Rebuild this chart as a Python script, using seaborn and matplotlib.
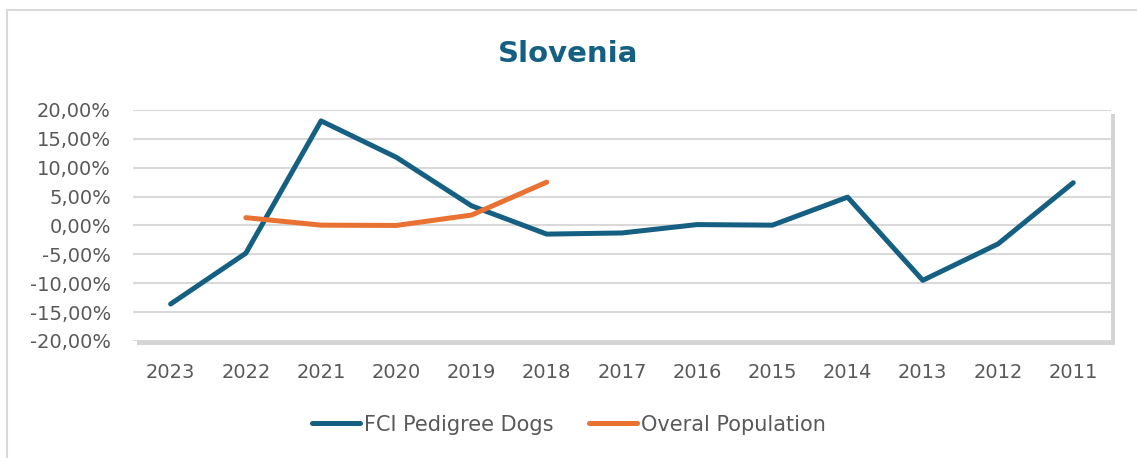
import numpy as np
import pandas as pd
import matplotlib
matplotlib.use("Agg")
import matplotlib.pyplot as plt
import matplotlib.patheffects as pe
from matplotlib.lines import Line2D
import seaborn as sns

# ---------------- DATA ----------------
years = ["2023", "2022", "2021", "2020", "2019", "2018", "2017",
         "2016", "2015", "2014", "2013", "2012", "2011"]
fci_dogs = [-13.6, -4.8, 18.1, 11.8, 3.4, -1.5, -1.3, 0.15, 0.05, 4.9, -9.5, -3.2, 7.4]
overal_pop = [np.nan, 1.35, 0.05, 0.0, 1.8, 7.5, np.nan, np.nan, np.nan, np.nan, np.nan, np.nan, np.nan]
y_ticks = [-20, -15, -10, -5, 0, 5, 10, 15, 20]

df = pd.DataFrame({
    "Year": years * 2,
    "Value": fci_dogs + overal_pop,
    "Series": ["FCI Pedigree Dogs"] * len(years) + ["Overal Population"] * len(years),
})
df["x"] = list(range(len(years))) * 2

# ---------------- STYLE ----------------
sns.set_style("white")
plt.rcParams["font.family"] = ["DejaVu Sans"]

blue = "#156082"
orange = "#E97132"
grey_txt = "#595959"

fig = plt.figure(figsize=(11.37, 4.58), dpi=100)
ax = fig.add_axes([0.117, 0.2555, 0.860, 0.5045])

sns.lineplot(data=df, x="x", y="Value", hue="Series",
             palette=[blue, orange], linewidth=3.6, ax=ax,
             legend=False, solid_capstyle="round")

ax.set_xlim(-0.5, len(years) - 0.5)
ax.set_ylim(-20, 20)
ax.set_xticks(range(len(years)))
ax.set_xticklabels(years)
ax.set_yticks(y_ticks)
ax.set_yticklabels([f"{v:.2f}%".replace(".", ",") for v in y_ticks])
ax.tick_params(axis="both", labelsize=14, colors=grey_txt, length=0)
ax.tick_params(axis="x", pad=16)
ax.tick_params(axis="y", pad=16)
ax.set_xlabel("")
ax.set_ylabel("")
ax.yaxis.grid(True, color="#D9D9D9", linewidth=1.5)
ax.set_axisbelow(True)
for s in ax.spines.values():
    s.set_visible(False)

# plot area shadow
ax.patch.set_path_effects([
    pe.SimplePatchShadow(offset=(3, -3), shadow_rgbFace="#a0a0a0", alpha=0.45),
    pe.Normal(),
])

# title
fig.text(0.5, 0.883, "Slovenia", ha="center", va="center",
         fontsize=21, fontweight="bold", color=blue)

# legend
handles = [Line2D([0], [0], color=blue, lw=3.6, solid_capstyle="round"),
           Line2D([0], [0], color=orange, lw=3.6, solid_capstyle="round")]
fig.legend(handles, ["FCI Pedigree Dogs", "Overal Population"],
           loc="center", bbox_to_anchor=(0.5, 0.073), ncol=2, frameon=False,
           fontsize=15, labelcolor=grey_txt, handlelength=2.35,
           handletextpad=0.15, columnspacing=1.7)

# outer chart border (top and left visible)
fig.add_artist(Line2D([0.006, 1.0], [0.978, 0.978], transform=fig.transFigure,
                      color="#D9D9D9", lw=1.5))
fig.add_artist(Line2D([0.006, 0.006], [0.0, 0.978], transform=fig.transFigure,
                      color="#D9D9D9", lw=1.5))

fig.savefig("out.png", dpi=100, facecolor="white")
